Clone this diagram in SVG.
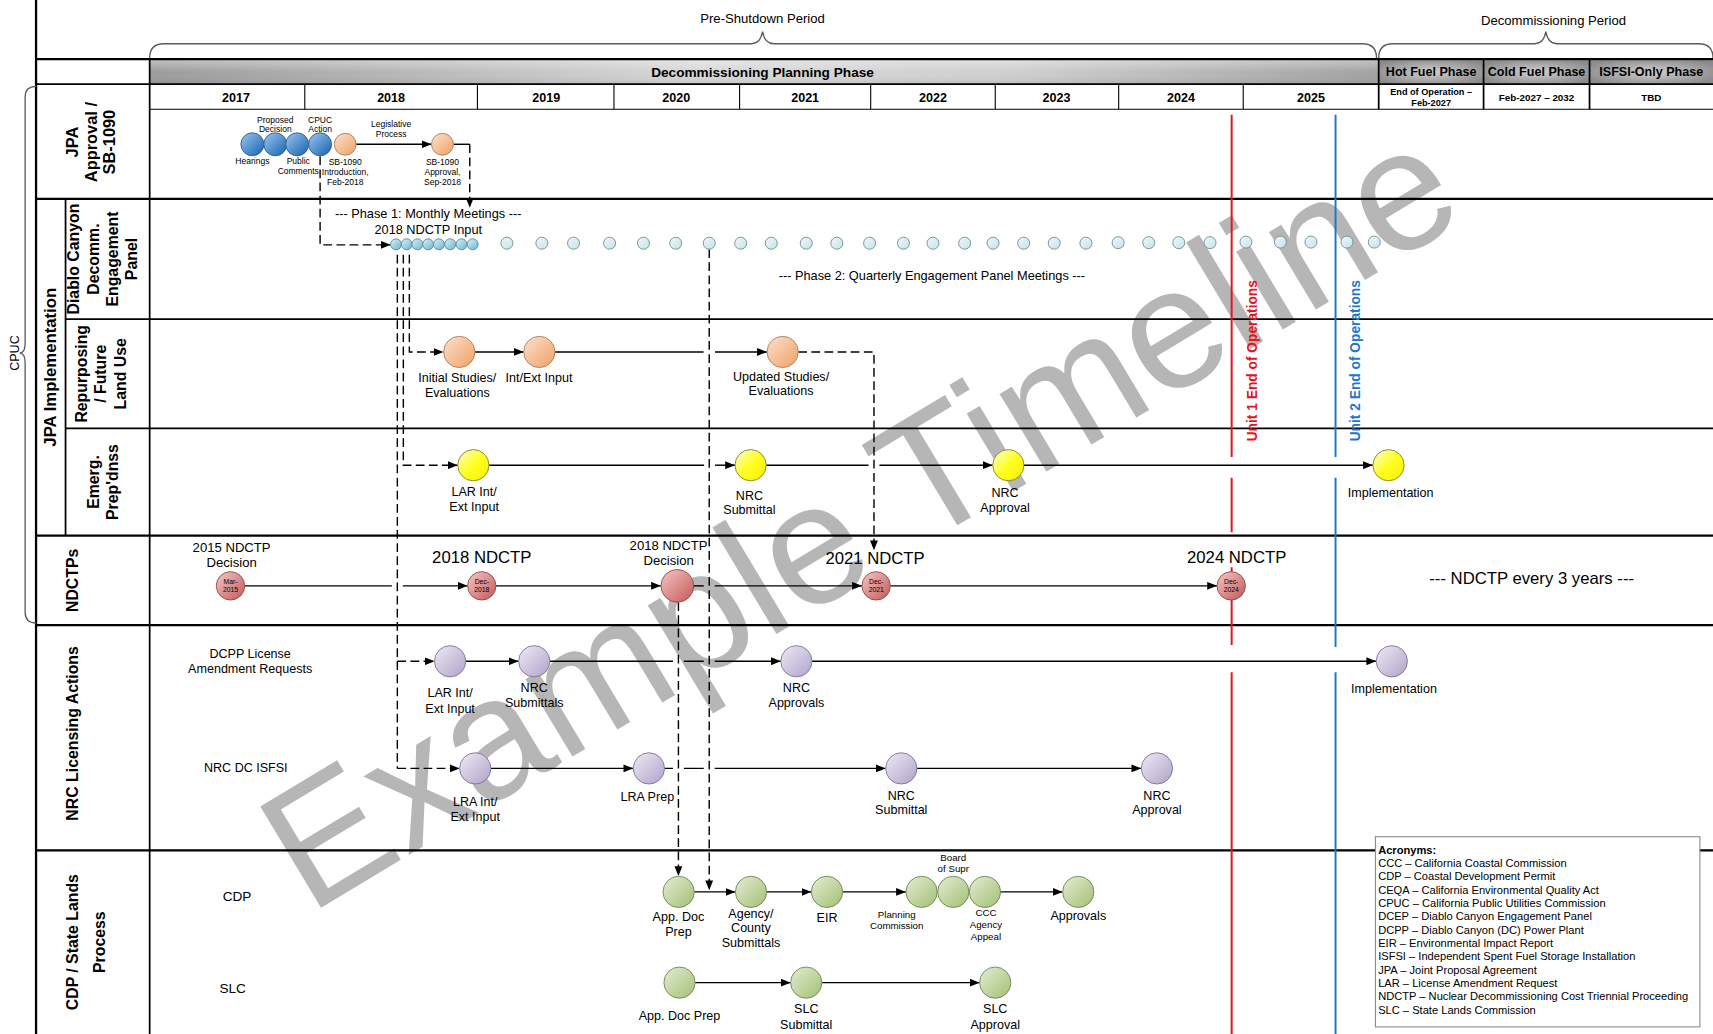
<svg xmlns="http://www.w3.org/2000/svg" width="1713" height="1034" viewBox="0 0 1713 1034">
<defs>
<style>
.f{font-family:"Liberation Sans",Arial,Helvetica,sans-serif;fill:#000}
.m{text-anchor:middle}
.b{font-weight:bold}
.s6{font-size:6.2px}
.s8{font-size:7.8px}
.s9{font-size:8.9px}
.s10{font-size:10.2px}
.s11{font-size:11.5px}
.s12{font-size:12px}
.s15{font-size:15.3px}
.g1{stroke:#000;stroke-width:1;fill:none}
.g2{stroke:#000;stroke-width:1.6;fill:none}
.g3{stroke:#000;stroke-width:2.1;fill:none}
.c{stroke:#000;stroke-width:1.3;fill:none}
.d{stroke:#000;stroke-width:1.3;fill:none;stroke-dasharray:8 4}
.ar{marker-end:url(#ah)}
.brace{stroke:#5a5a5a;stroke-width:1.2;fill:none}
.cb{fill:url(#gBlue);stroke:#2b5788;stroke-width:0.8}
.co{fill:url(#gOrange);stroke:#a87a58;stroke-width:0.8}
.cy{fill:url(#gYellow);stroke:#7c7c30;stroke-width:0.8}
.cp{fill:url(#gPurple);stroke:#7a6f90;stroke-width:0.8}
.cg{fill:url(#gGreen);stroke:#6e8250;stroke-width:0.8}
.cr{fill:url(#gRed);stroke:#8e4545;stroke-width:0.8}
.ct{fill:url(#gTeal);stroke:#4d8898;stroke-width:0.8}
.cs{fill:url(#gPale);stroke:#6b8a92;stroke-width:0.8}
.red{stroke:#e3141c;stroke-width:1.8;fill:none}
.blue{stroke:#1e78c8;stroke-width:1.8;fill:none}
</style>
<linearGradient id="gBlue" x1="0" y1="0" x2="1" y2="1"><stop offset="0" stop-color="#9cc8ee"/><stop offset="1" stop-color="#1560b0"/></linearGradient>
<linearGradient id="gOrange" x1="0" y1="0" x2="1" y2="1"><stop offset="0" stop-color="#fbe2d0"/><stop offset="1" stop-color="#f0a062"/></linearGradient>
<linearGradient id="gYellow" x1="0" y1="0" x2="1" y2="1"><stop offset="0" stop-color="#fbfbd8"/><stop offset="0.5" stop-color="#ffff20"/><stop offset="1" stop-color="#f2f200"/></linearGradient>
<linearGradient id="gPurple" x1="0" y1="0" x2="1" y2="1"><stop offset="0" stop-color="#eeeaf4"/><stop offset="1" stop-color="#b0a2ca"/></linearGradient>
<linearGradient id="gGreen" x1="0" y1="0" x2="1" y2="1"><stop offset="0" stop-color="#e4edd4"/><stop offset="1" stop-color="#a2bf74"/></linearGradient>
<linearGradient id="gRed" x1="0" y1="0" x2="1" y2="1"><stop offset="0" stop-color="#f6c8c8"/><stop offset="1" stop-color="#c45656"/></linearGradient>
<linearGradient id="gTeal" x1="0" y1="0" x2="1" y2="1"><stop offset="0" stop-color="#dcf0f6"/><stop offset="1" stop-color="#6ab6ce"/></linearGradient>
<linearGradient id="gPale" x1="0" y1="0" x2="1" y2="1"><stop offset="0" stop-color="#eef8fa"/><stop offset="1" stop-color="#c6e2e8"/></linearGradient>
<linearGradient id="gBar" x1="0" y1="0" x2="1" y2="0"><stop offset="0" stop-color="#9c9c9c"/><stop offset="0.45" stop-color="#d8d8d8"/><stop offset="0.7" stop-color="#cfcfcf"/><stop offset="1" stop-color="#a2a2a2"/></linearGradient>
<linearGradient id="gShine" x1="0" y1="0" x2="0" y2="1"><stop offset="0" stop-color="#fff" stop-opacity="0.35"/><stop offset="0.5" stop-color="#fff" stop-opacity="0"/><stop offset="1" stop-color="#000" stop-opacity="0.08"/></linearGradient>
<radialGradient id="gPhase" cx="0.5" cy="0.5" r="0.6"><stop offset="0" stop-color="#cfcfcf"/><stop offset="1" stop-color="#8a8a8a"/></radialGradient>
<marker id="ah" viewBox="0 0 10 8" refX="10" refY="4" markerWidth="9" markerHeight="7.2" orient="auto" markerUnits="userSpaceOnUse"><path d="M0,0 L10,4 L0,8 z" fill="#000"/></marker>
</defs>
<rect width="1713" height="1034" fill="#fff"/>
<g transform="scale(1.09247 1.09302)">

<g id="watermark">
<text class="f" x="0" y="56" font-size="157" text-anchor="middle" style="fill:#a9a9a9" fill-opacity="0.85" transform="translate(785,470) rotate(-31)">Example Timeline</text>
</g>

<g id="header">
<text class="f s12 m" x="698" y="21.5">Pre-Shutdown Period</text>
<text class="f s12 m" x="1422" y="22.5">Decommissioning Period</text>
<path class="brace" d="M137,53 Q137,40 150,40 H688 Q696,40 698,29 Q700,40 708,40 H1247 Q1260,40 1260,53"/>
<path class="brace" d="M1262,53 Q1262,40 1275,40 H1405 Q1413,40 1415,29 Q1417,40 1425,40 H1555 Q1568,40 1568,53"/>
<rect x="137" y="55" width="1125" height="22" fill="url(#gBar)"/>
<rect x="137" y="55" width="1125" height="22" fill="url(#gShine)"/>
<rect x="1262" y="55" width="96" height="22" fill="url(#gPhase)"/>
<rect x="1358" y="55" width="97" height="22" fill="url(#gPhase)"/>
<rect x="1455" y="55" width="113" height="22" fill="url(#gPhase)"/>
<text class="f b m" style="font-size:12.5px" x="698" y="70.3">Decommissioning Planning Phase</text>
<text class="f b m s11" x="1310" y="69.5">Hot Fuel Phase</text>
<text class="f b m s11" x="1406.5" y="69.5">Cold Fuel Phase</text>
<text class="f b m s11" x="1511.5" y="69.5">ISFSI-Only Phase</text>
<g class="f b m s11">
<text x="216" y="93">2017</text>
<text x="358" y="93">2018</text>
<text x="500" y="93">2019</text>
<text x="619" y="93">2020</text>
<text x="737" y="93">2021</text>
<text x="854" y="93">2022</text>
<text x="967" y="93">2023</text>
<text x="1081" y="93">2024</text>
<text x="1200" y="93">2025</text>
</g>
<text class="f b m" style="font-size:8.4px" x="1310" y="87">End of Operation –</text>
<text class="f b m" style="font-size:8.4px" x="1310" y="97">Feb-2027</text>
<text class="f b m" style="font-size:9px" x="1406.5" y="92">Feb-2027 – 2032</text>
<text class="f b m" style="font-size:9px" x="1511.5" y="92">TBD</text>
</g>

<g id="grid">
<path class="g3" d="M33,0 V946"/>
<path class="g3" d="M33,54 H1568"/>
<path class="g2" d="M33,77 H1568"/>
<path class="g1" d="M137,100 H1568"/>
<path class="g2" d="M137,54 V946"/>
<path class="g1" d="M279,77 V100 M437,77 V100 M562,77 V100 M677,77 V100 M797,77 V100 M911,77 V100 M1024,77 V100 M1138,77 V100"/>
<path class="g2" d="M1262,54 V100 M1358,54 V100 M1455,54 V100"/>
<path class="g3" d="M33,182 H1568"/>
<path class="g2" d="M60,292 H1568 M60,392 H1568"/>
<path class="g2" d="M60,182 V490"/>
<path class="g3" d="M33,490 H1568"/>
<path class="g3" d="M33,572 H1568"/>
<path class="g3" d="M33,778 H1568"/>
<path class="brace" d="M33,79 Q23,79 23,89 V314 Q23,323 18,323 Q23,323 23,332 V560 Q23,570 33,570"/>
<text class="f m" style="font-size:11.5px" transform="translate(17,323) rotate(-90)">CPUC</text>
</g>

<g id="row-labels" class="f b m">
<text style="font-size:15px" transform="translate(71.4,130) rotate(-90)">JPA</text>
<text style="font-size:15px" transform="translate(88.4,130) rotate(-90)">Approval /</text>
<text style="font-size:15px" transform="translate(105.4,130) rotate(-90)">SB-1090</text>
<text style="font-size:15.3px" transform="translate(51.5,336) rotate(-90)">JPA Implementation</text>
<g style="font-size:14.5px">
<text transform="translate(72.7,237) rotate(-90)">Diablo Canyon</text>
<text transform="translate(90.2,237) rotate(-90)">Decomm.</text>
<text transform="translate(107.7,237) rotate(-90)">Engagement</text>
<text transform="translate(125.2,237) rotate(-90)">Panel</text>
<text transform="translate(79.2,342) rotate(-90)">Repurposing</text>
<text transform="translate(97.2,342) rotate(-90)">/ Future</text>
<text transform="translate(115.2,342) rotate(-90)">Land Use</text>
<text transform="translate(90.2,441) rotate(-90)">Emerg.</text>
<text transform="translate(108.2,441) rotate(-90)">Prep'dnss</text>
</g>
<text style="font-size:14.5px" transform="translate(71,531) rotate(-90)">NDCTPs</text>
<text style="font-size:14.5px" transform="translate(71,671) rotate(-90)">NRC Licensing Actions</text>
<text style="font-size:14.5px" transform="translate(71.2,862) rotate(-90)">CDP / State Lands</text>
<text style="font-size:14.5px" transform="translate(96,862) rotate(-90)">Process</text>
</g>

<g id="unit-lines">
<path class="red" d="M1127.4,105 V418 M1127.4,437 V487 M1127.4,519 V590 M1127.4,615 V946"/>
<path class="blue" d="M1222.5,105 V418 M1222.5,437 V592 M1222.5,615 V946"/>
<text class="f b m" style="font-size:12.6px;fill:#e3141c" transform="translate(1150.3,330) rotate(-90)">Unit 1 End of Operations</text>
<text class="f b m" style="font-size:12.6px;fill:#1e78c8" transform="translate(1244.5,330) rotate(-90)">Unit 2 End of Operations</text>
</g>

<g id="connectors">
<path class="c ar" d="M326,132 H395"/>
<path class="c" d="M415,132 H430"/>
<path class="d ar" d="M430,132 V190"/>
<path class="d ar" d="M293,143 V224 H357.5"/>
<path class="d" d="M363.7,233 V703"/>
<path class="d ar" d="M363.7,703 H420.7"/>
<path class="d ar" d="M363.7,605 H397.7"/>
<path class="d ar" d="M369.2,233 V425.6 H419"/>
<path class="d ar" d="M374.7,233 V322 H406"/>
<path class="d ar" d="M649.2,228 V814.5"/>
<path class="d ar" d="M621,551 V801.5"/>
<path class="d ar" d="M730.7,322 H800 V503.4"/>
<path class="c ar" d="M434.7,322 H479.4"/>
<path class="c" d="M508,322 H644"/>
<path class="c ar" d="M654.5,322 H702"/>
<path class="c" d="M447.6,425.6 H644.5"/>
<path class="c ar" d="M654.5,425.6 H672.8"/>
<path class="c" d="M701.4,425.6 H795"/>
<path class="c ar" d="M805,425.6 H908.6"/>
<path class="c ar" d="M937.3,425.6 H1256.7"/>
<path class="c" d="M224,536 H358.7"/>
<path class="c ar" d="M368.7,536 H428"/>
<path class="c ar" d="M454,536 H605"/>
<path class="c" d="M635,536 H644.2"/>
<path class="c ar" d="M654.2,536 H789"/>
<path class="c ar" d="M815,536 H1114"/>
<path class="c ar" d="M426.3,605 H474.7"/>
<path class="c" d="M503.3,605 H616 M626,605 H644.2"/>
<path class="c ar" d="M654.2,605 H714.7"/>
<path class="c ar" d="M743.3,605 H1259.7"/>
<path class="c ar" d="M449.3,703 H579.7"/>
<path class="c" d="M608.3,703 H616 M626,703 H644.2"/>
<path class="c ar" d="M654.2,703 H810.7"/>
<path class="c ar" d="M839.3,703 H1044.7"/>
<path class="c ar" d="M635.5,816 H673.1"/>
<path class="c ar" d="M701.7,816 H742.7"/>
<path class="c ar" d="M771.3,816 H829.3"/>
<path class="c ar" d="M915.9,816 H972.7"/>
<path class="c ar" d="M636.3,899 H723.7"/>
<path class="c ar" d="M752.3,899 H896.7"/>
<text class="f s8 m" x="358" y="116">Legislative</text>
<text class="f s8 m" x="358" y="125">Process</text>
</g>

<g id="nodes">
<g id="n-hearings"><circle class="cb" cx="231" cy="132" r="10.5"/><text class="f s8 m" x="231" y="150">Hearings</text></g>
<g id="n-proposed"><circle class="cb" cx="252" cy="132" r="10.5"/><text class="f s8 m" x="252" y="112.5">Proposed</text><text class="f s8 m" x="252" y="121">Decision</text></g>
<g id="n-public"><circle class="cb" cx="272" cy="132" r="10.5"/><text class="f s8 m" x="273" y="150">Public</text><text class="f s8 m" x="273" y="159">Comments</text></g>
<g id="n-cpuc"><circle class="cb" cx="293" cy="132" r="10.5"/><text class="f s8 m" x="293" y="112.5">CPUC</text><text class="f s8 m" x="293" y="121">Action</text></g>
<g id="n-sbintro"><circle class="co" cx="316" cy="132" r="10"/><text class="f s8 m" x="316" y="151">SB-1090</text><text class="f s8 m" x="316" y="160">Introduction,</text><text class="f s8 m" x="316" y="169">Feb-2018</text></g>
<g id="n-sbappr"><circle class="co" cx="405" cy="132" r="10"/><text class="f s8 m" x="405" y="151">SB-1090</text><text class="f s8 m" x="405" y="160">Approval,</text><text class="f s8 m" x="405" y="169">Sep-2018</text></g>

<g id="n-phase1">
<text class="f m" style="font-size:11.7px" x="392" y="199.5">--- Phase 1: Monthly Meetings ---</text>
<text class="f m" style="font-size:11.7px" x="392" y="213.8">2018 NDCTP Input</text>
<circle class="ct" cx="362.5" cy="223.5" r="5"/><circle class="ct" cx="372.3" cy="223.5" r="5"/><circle class="ct" cx="382.1" cy="223.5" r="5"/><circle class="ct" cx="391.9" cy="223.5" r="5"/><circle class="ct" cx="401.8" cy="223.5" r="5"/><circle class="ct" cx="412.1" cy="223.5" r="5"/><circle class="ct" cx="422.5" cy="223.5" r="5"/><circle class="ct" cx="432.7" cy="223.5" r="5"/>
</g>
<g id="n-phase2">
<circle class="cs" cx="464" cy="222.5" r="5.5"/><circle class="cs" cx="496" cy="222.5" r="5.5"/><circle class="cs" cx="525" cy="222.5" r="5.5"/><circle class="cs" cx="558" cy="222.5" r="5.5"/><circle class="cs" cx="589" cy="222.5" r="5.5"/><circle class="cs" cx="618.5" cy="222.5" r="5.5"/><circle class="cs" cx="649.2" cy="222.5" r="5.5"/><circle class="cs" cx="678" cy="222.5" r="5.5"/><circle class="cs" cx="706" cy="222.5" r="5.5"/><circle class="cs" cx="738" cy="222.5" r="5.5"/><circle class="cs" cx="766" cy="222.5" r="5.5"/><circle class="cs" cx="796" cy="222.5" r="5.5"/><circle class="cs" cx="827" cy="222.5" r="5.5"/><circle class="cs" cx="854" cy="222.5" r="5.5"/><circle class="cs" cx="883" cy="222.5" r="5.5"/><circle class="cs" cx="909" cy="222.5" r="5.5"/><circle class="cs" cx="937" cy="222.5" r="5.5"/><circle class="cs" cx="965" cy="222.5" r="5.5"/><circle class="cs" cx="994" cy="222.5" r="5.5"/><circle class="cs" cx="1023.5" cy="222" r="5.5"/><circle class="cs" cx="1051.5" cy="222" r="5.5"/><circle class="cs" cx="1079" cy="222" r="5.5"/><circle class="cs" cx="1107.6" cy="222" r="5.5"/><circle class="cs" cx="1140.5" cy="221.5" r="5.5"/><circle class="cs" cx="1172" cy="221.5" r="5.5"/><circle class="cs" cx="1200" cy="221.5" r="5.5"/><circle class="cs" cx="1233" cy="221.5" r="5.5"/><circle class="cs" cx="1258" cy="221.5" r="5.5"/>
<text class="f m" style="font-size:11.7px" x="853" y="256">--- Phase 2: Quarterly Engagement Panel Meetings ---</text>
</g>

<g id="n-initial"><circle class="co" cx="420.4" cy="322" r="14.3"/><text class="f s11 m" x="418.6" y="349.8">Initial Studies/</text><text class="f s11 m" x="418.6" y="363.5">Evaluations</text></g>
<g id="n-intext"><circle class="co" cx="493.7" cy="322" r="14.3"/><text class="f s11 m" x="493.4" y="349.8">Int/Ext Input</text></g>
<g id="n-updated"><circle class="co" cx="716.4" cy="322" r="14.3"/><text class="f s11 m" x="714.9" y="348.3">Updated Studies/</text><text class="f s11 m" x="714.9" y="361.7">Evaluations</text></g>

<g id="n-e-lar"><circle class="cy" cx="433.3" cy="425.6" r="14.3"/><text class="f s11 m" x="434" y="454">LAR Int/</text><text class="f s11 m" x="434" y="467.5">Ext Input</text></g>
<g id="n-e-sub"><circle class="cy" cx="687.1" cy="425.6" r="14.3"/><text class="f s11 m" x="686" y="457">NRC</text><text class="f s11 m" x="686" y="470.5">Submittal</text></g>
<g id="n-e-appr"><circle class="cy" cx="923" cy="425.6" r="14.3"/><text class="f s11 m" x="920" y="454.5">NRC</text><text class="f s11 m" x="920" y="468">Approval</text></g>
<g id="n-e-impl"><circle class="cy" cx="1271" cy="425.6" r="14.3"/><text class="f s11 m" x="1273" y="455">Implementation</text></g>

<g id="n-ndctp2015"><circle class="cr" cx="211" cy="536" r="13"/><text class="f s6 m" x="211" y="534.5">Mar-</text><text class="f s6 m" x="211" y="541.5">2015</text><text class="f s12 m" x="212" y="505">2015 NDCTP</text><text class="f s12 m" x="212" y="519">Decision</text></g>
<g id="n-ndctp2018"><circle class="cr" cx="441" cy="536" r="13"/><text class="f s6 m" x="441" y="534.5">Dec-</text><text class="f s6 m" x="441" y="541.5">2018</text><text class="f s15 m" x="441" y="515">2018 NDCTP</text></g>
<g id="n-ndctp2018d"><circle class="cr" cx="620" cy="536" r="15"/><text class="f s12 m" x="612" y="503">2018 NDCTP</text><text class="f s12 m" x="612" y="517">Decision</text></g>
<g id="n-ndctp2021"><circle class="cr" cx="802" cy="536" r="13"/><text class="f s6 m" x="802" y="534.5">Dec-</text><text class="f s6 m" x="802" y="541.5">2021</text><text class="f s15 m" x="801" y="516">2021 NDCTP</text></g>
<g id="n-ndctp2024"><rect x="1084" y="500" width="96" height="18" fill="#fff"/><circle class="cr" cx="1127" cy="536" r="13"/><text class="f s6 m" x="1127" y="534.5">Dec-</text><text class="f s6 m" x="1127" y="541.5">2024</text><text class="f s15 m" x="1132" y="515">2024 NDCTP</text></g>
<g id="n-ndctp-every"><text class="f s15 m" x="1402" y="534.5">--- NDCTP every 3 years ---</text></g>

<g id="n-dcpp-label"><text class="f s11 m" x="229" y="602">DCPP License</text><text class="f s11 m" x="229" y="616">Amendment Requests</text></g>
<g id="n-l-lar"><circle class="cp" cx="412" cy="605" r="14.3"/><text class="f s11 m" x="412" y="638">LAR Int/</text><text class="f s11 m" x="412" y="652">Ext Input</text></g>
<g id="n-l-sub"><circle class="cp" cx="489" cy="605" r="14.3"/><text class="f s11 m" x="489" y="633">NRC</text><text class="f s11 m" x="489" y="647">Submittals</text></g>
<g id="n-l-appr"><circle class="cp" cx="729" cy="605" r="14.3"/><text class="f s11 m" x="729" y="633">NRC</text><text class="f s11 m" x="729" y="647">Approvals</text></g>
<g id="n-l-impl"><circle class="cp" cx="1274" cy="605" r="14.3"/><text class="f s11 m" x="1276" y="634">Implementation</text></g>

<g id="n-isfsi-label"><text class="f s11 m" x="225" y="706">NRC DC ISFSI</text></g>
<g id="n-i-lra"><circle class="cp" cx="435" cy="703" r="14.3"/><text class="f s11 m" x="435" y="737">LRA Int/</text><text class="f s11 m" x="435" y="751">Ext Input</text></g>
<g id="n-i-prep"><circle class="cp" cx="594" cy="703" r="14.3"/><text class="f s11 m" x="592.5" y="733">LRA Prep</text></g>
<g id="n-i-sub"><circle class="cp" cx="825" cy="703" r="14.3"/><text class="f s11 m" x="825" y="731.5">NRC</text><text class="f s11 m" x="825" y="745">Submittal</text></g>
<g id="n-i-appr"><circle class="cp" cx="1059" cy="703" r="14.3"/><text class="f s11 m" x="1059" y="731.5">NRC</text><text class="f s11 m" x="1059" y="745">Approval</text></g>

<g id="n-cdp-label"><text class="f m" style="font-size:12.5px" x="217" y="824.5">CDP</text></g>
<g id="n-c-prep"><circle class="cg" cx="621.2" cy="816" r="14.3"/><text class="f s11 m" x="621" y="842.5">App. Doc</text><text class="f s11 m" x="621" y="856">Prep</text></g>
<g id="n-c-agency"><circle class="cg" cx="687.4" cy="816" r="14.3"/><text class="f s11 m" x="687.4" y="840">Agency/</text><text class="f s11 m" x="687.4" y="853">County</text><text class="f s11 m" x="687.4" y="866">Submittals</text></g>
<g id="n-c-eir"><circle class="cg" cx="757" cy="816" r="14.3"/><text class="f s11 m" x="757" y="844">EIR</text></g>
<g id="n-c-plan"><circle class="cg" cx="843.6" cy="816" r="14.3"/><text class="f s9 m" x="820.8" y="839.6">Planning</text><text class="f s9 m" x="820.8" y="849.7">Commission</text></g>
<g id="n-c-board"><circle class="cg" cx="872.6" cy="816" r="14.3"/><text class="f s9 m" x="872.6" y="787.3">Board</text><text class="f s9 m" x="872.6" y="798">of Supr</text></g>
<g id="n-c-ccc"><circle class="cg" cx="901.6" cy="816" r="14.3"/><text class="f s9 m" x="902.5" y="838.2">CCC</text><text class="f s9 m" x="902.5" y="849">Agency</text><text class="f s9 m" x="902.5" y="859.7">Appeal</text></g>
<g id="n-c-appr"><circle class="cg" cx="987" cy="816" r="14.3"/><text class="f s11 m" x="987" y="842">Approvals</text></g>

<g id="n-slc-label"><text class="f m" style="font-size:12.5px" x="213" y="908.5">SLC</text></g>
<g id="n-s-prep"><circle class="cg" cx="622" cy="899" r="14.3"/><text class="f s11 m" x="622" y="933">App. Doc Prep</text></g>
<g id="n-s-sub"><circle class="cg" cx="738" cy="899" r="14.3"/><text class="f s11 m" x="738" y="927">SLC</text><text class="f s11 m" x="738" y="941">Submittal</text></g>
<g id="n-s-appr"><circle class="cg" cx="911" cy="899" r="14.3"/><text class="f s11 m" x="911" y="927">SLC</text><text class="f s11 m" x="911" y="941">Approval</text></g>
</g>

<g id="acronyms">
<rect x="1259" y="765.5" width="297" height="174" fill="#fff" stroke="#8a8a8a" stroke-width="1"/>
<g class="f s10">
<text x="1261.5" y="781" font-weight="bold">Acronyms:</text>
<text x="1261.5" y="793.2">CCC – California Coastal Commission</text>
<text x="1261.5" y="805.4">CDP – Coastal Development Permit</text>
<text x="1261.5" y="817.6">CEQA – California Environmental Quality Act</text>
<text x="1261.5" y="829.8">CPUC – California Public Utilities Commission</text>
<text x="1261.5" y="842">DCEP – Diablo Canyon Engagement Panel</text>
<text x="1261.5" y="854.2">DCPP – Diablo Canyon (DC) Power Plant</text>
<text x="1261.5" y="866.4">EIR – Environmental Impact Report</text>
<text x="1261.5" y="878.6">ISFSI – Independent Spent Fuel Storage Installation</text>
<text x="1261.5" y="890.8">JPA – Joint Proposal Agreement</text>
<text x="1261.5" y="903">LAR – License Amendment Request</text>
<text x="1261.5" y="915.2">NDCTP – Nuclear Decommissioning Cost Triennial Proceeding</text>
<text x="1261.5" y="927.4">SLC – State Lands Commission</text>
</g>
</g>
</g>
</svg>
